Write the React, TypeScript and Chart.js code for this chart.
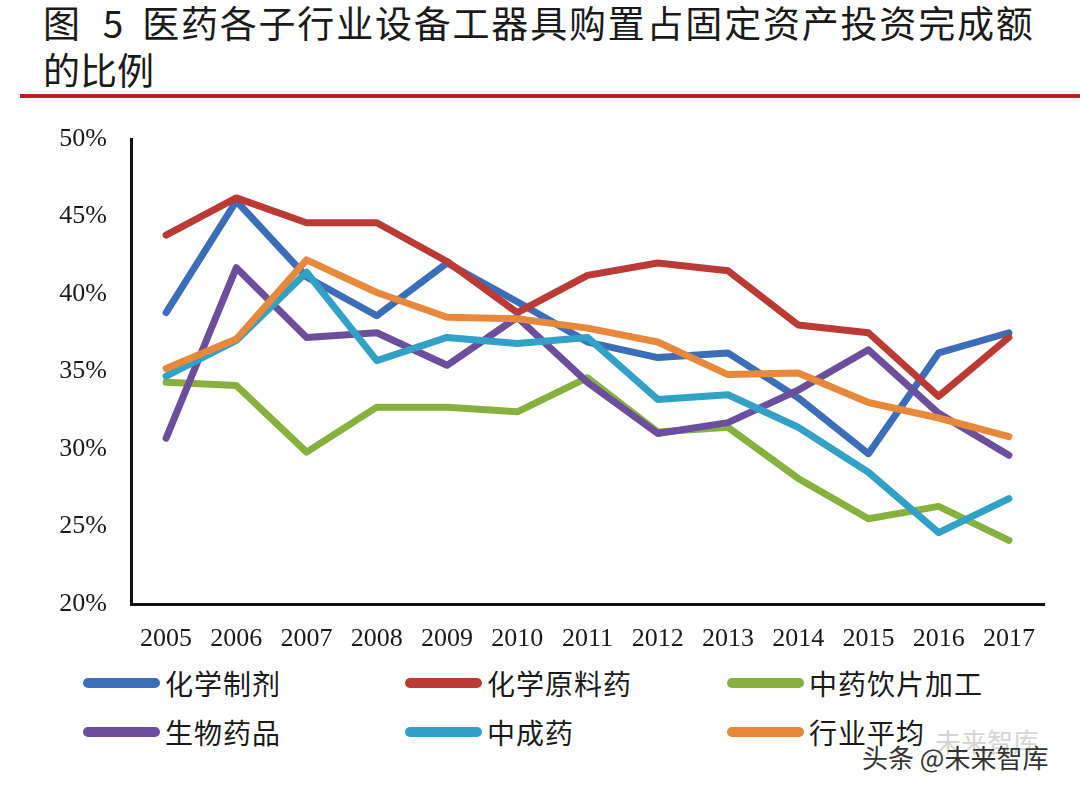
import React, { useEffect, useRef } from 'react';
import { Chart, registerables } from 'chart.js';

Chart.register(...registerables);

const years = ['2005', '2006', '2007', '2008', '2009', '2010', '2011', '2012', '2013', '2014', '2015', '2016', '2017'];
const chemPrep = [38.8, 46.0, 41.1, 38.6, 42.0, 39.5, 36.9, 35.9, 36.2, 33.3, 29.7, 36.2, 37.5];
const chemApi = [43.8, 46.2, 44.6, 44.6, 42.1, 38.8, 41.2, 42.0, 41.5, 38.0, 37.5, 33.4, 37.2];
const tcmPieces = [34.3, 34.1, 29.8, 32.7, 32.7, 32.4, 34.6, 31.1, 31.4, 28.1, 25.5, 26.3, 24.1];
const biologics = [30.7, 41.7, 37.2, 37.5, 35.4, 38.5, 34.3, 31.0, 31.7, 33.8, 36.4, 32.3, 29.6];
const patentMed = [34.7, 37.0, 41.4, 35.7, 37.2, 36.8, 37.2, 33.2, 33.5, 31.4, 28.5, 24.6, 26.8];
const industryAvg = [35.2, 37.1, 42.2, 40.1, 38.5, 38.4, 37.8, 36.9, 34.8, 34.9, 33.0, 32.0, 30.8];

const seriesNames = ['化学制剂', '化学原料药', '中药饮片加工', '生物药品', '中成药', '行业平均'];
const seriesData = [chemPrep, chemApi, tcmPieces, biologics, patentMed, industryAvg];
const seriesColors = ['#3b6db8', '#bb3a36', '#88b03e', '#6b4e9c', '#31a2c6', '#e8883a'];

const legendCols = [83, 405, 727];
const legendRows = [683, 732];

const LineChart = () => {
    const chartRef = useRef<HTMLCanvasElement>(null);
    const chartInstance = useRef<Chart | null>(null);

    useEffect(() => {
        if (!chartRef.current) return;
        const ctx = chartRef.current.getContext('2d');
        if (!ctx) return;
        if (chartInstance.current) chartInstance.current.destroy();

        chartInstance.current = new Chart(ctx, {
            type: 'line',
            data: {
                labels: years,
                datasets: seriesNames.map((name, i) => ({
                    label: name,
                    data: seriesData[i],
                    borderColor: seriesColors[i],
                    backgroundColor: seriesColors[i],
                    borderWidth: 7,
                    borderCapStyle: 'round',
                    borderJoinStyle: 'round',
                    pointRadius: 0,
                    tension: 0,
                    fill: false,
                    order: seriesNames.length - 1 - i,
                })),
            },
            options: {
                animation: false,
                responsive: true,
                maintainAspectRatio: false,
                layout: { padding: { top: 139, right: 36, bottom: 0, left: 0 } },
                plugins: {
                    legend: { display: false },
                    tooltip: { enabled: false },
                },
                scales: {
                    x: {
                        offset: true,
                        grid: { display: false, drawTicks: false },
                        border: { display: true, color: '#111', width: 3 },
                        ticks: {
                            color: '#1a1a1a',
                            padding: 20,
                            font: { family: 'Liberation Serif', size: 26 },
                            maxRotation: 0,
                            autoSkip: false,
                        },
                        afterFit: (scale) => {
                            scale.height = 56;
                        },
                    },
                    y: {
                        min: 20,
                        max: 50,
                        grid: { display: false, drawTicks: false },
                        border: { display: true, color: '#111', width: 3 },
                        ticks: {
                            stepSize: 5,
                            color: '#1a1a1a',
                            padding: 24,
                            font: { family: 'Liberation Serif', size: 26 },
                            callback: (v) => `${v}%`,
                        },
                        afterFit: (scale) => {
                            scale.width = 131;
                        },
                    },
                },
            },
        });

        return () => {
            if (chartInstance.current) {
                chartInstance.current.destroy();
                chartInstance.current = null;
            }
        };
    }, []);

    return (
        <div style={{ position: 'absolute', left: 0, top: 0, width: 1080, height: 660 }}>
            <canvas ref={chartRef}></canvas>
        </div>
    );
};

const App = () => {
    const cjk = '"Noto Sans CJK SC", "Noto Sans", sans-serif';
    return (
        <div style={{ position: 'fixed', left: 0, top: 0, width: 1080, height: 793, background: '#fff', overflow: 'hidden' }}>
            <div style={{ position: 'absolute', left: 43, top: -1, fontFamily: cjk, fontSize: 37, lineHeight: '47px', color: '#1a1a1a', whiteSpace: 'nowrap' }}>
                <div style={{ letterSpacing: 1.8 }}>
                    <span>图</span>
                    <span style={{ margin: '0 17px 0 21px' }}>5</span>
                    <span>医药各子行业设备工器具购置占固定资产投资完成额</span>
                </div>
                <div>的比例</div>
            </div>
            <div style={{ position: 'absolute', left: 20, right: 0, top: 94, height: 4, background: '#b52024' }} />
            <LineChart />
            {seriesNames.map((name, i) => (
                <div
                    key={name}
                    style={{
                        position: 'absolute',
                        left: legendCols[i % 3],
                        top: legendRows[Math.floor(i / 3)] - 20,
                        height: 40,
                        display: 'flex',
                        alignItems: 'center',
                        fontFamily: cjk,
                        fontSize: 28,
                        letterSpacing: 1,
                        color: '#1a1a1a',
                        whiteSpace: 'nowrap',
                    }}
                >
                    <span style={{ display: 'inline-block', width: 77, height: 10, borderRadius: 5, background: seriesColors[i], marginRight: 5 }} />
                    <span>{name}</span>
                </div>
            ))}
            <div style={{ position: 'absolute', left: 935, top: 722, fontFamily: cjk, fontSize: 26, color: '#d4d4d4', whiteSpace: 'nowrap' }}>未来智库</div>
            <div style={{ position: 'absolute', left: 862, top: 740, fontFamily: cjk, fontSize: 26, lineHeight: '34px', color: '#333', whiteSpace: 'nowrap' }}>头条 @未来智库</div>
        </div>
    );
};

export default App;
